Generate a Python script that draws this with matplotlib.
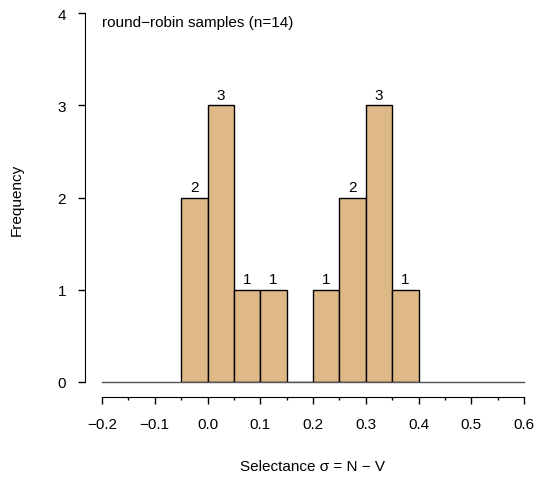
import numpy as np
import matplotlib.pyplot as plt
from matplotlib.ticker import MultipleLocator

plt.rcParams["font.family"] = ["Liberation Sans", "DejaVu Sans"]

# Histogram data (bin edges and counts)
bin_edges = [-0.05, 0.0, 0.05, 0.1, 0.15, 0.2, 0.25, 0.3, 0.35, 0.4]
counts = [2, 3, 1, 1, 0, 1, 2, 3, 1]

x_ticks = [-0.2, -0.1, 0.0, 0.1, 0.2, 0.3, 0.4, 0.5, 0.6]
y_ticks = [0, 1, 2, 3, 4]
title = "round\u2212robin samples (n=14)"

W, H = 535, 481
FS = 11
fig = plt.figure(figsize=(W / 100, H / 100), dpi=100)
ax = fig.add_axes([102 / W, (H - 383) / H, 422 / W, 369 / H])

lefts = np.array(bin_edges[:-1])
widths = np.diff(bin_edges)
ax.bar(lefts, counts, width=widths, align="edge", color="#DEB887",
       edgecolor="black", linewidth=1.0, zorder=2)

# baseline across the full range
ax.plot([x_ticks[0], x_ticks[-1]], [0, 0], color="#555555", lw=1.0, zorder=3,
        clip_on=False)

for x0, w, c in zip(lefts, widths, counts):
    if c > 0:
        ax.annotate(str(c), (x0 + w / 2, c), xytext=(0, 2.5), textcoords="offset points",
                    ha="center", va="bottom", fontsize=FS)

ax.text(0.0, 0.995, title, transform=ax.transAxes, ha="left", va="top", fontsize=FS)

ax.set_xlim(x_ticks[0], x_ticks[-1])
ax.set_ylim(y_ticks[0], y_ticks[-1])

for side in ("top", "right"):
    ax.spines[side].set_visible(False)
ax.spines["left"].set_position(("outward", 12))
ax.spines["bottom"].set_position(("outward", 11))
ax.spines["left"].set_bounds(y_ticks[0], y_ticks[-1])
ax.spines["bottom"].set_bounds(x_ticks[0], x_ticks[-1])

ax.set_xticks(x_ticks)
ax.set_xticklabels([f"{v:.1f}".replace("-", "\u2212") for v in x_ticks])
ax.xaxis.set_minor_locator(MultipleLocator(0.05))
ax.set_yticks(y_ticks)
ax.tick_params(axis="x", which="major", length=5, width=1, pad=9.5, labelsize=FS)
ax.tick_params(axis="x", which="minor", length=2.5, width=1)
ax.tick_params(axis="y", length=5, width=1, pad=9, labelsize=FS)

fig.text(17 / W, 1 - 200 / H, "Frequency", rotation=90, ha="center", va="center", fontsize=FS)
fig.text(313 / W, 1 - 467 / H, "Selectance \u03c3 = N \u2212 V", ha="center", va="center",
         fontsize=FS)

fig.savefig("out.png", dpi=100)
